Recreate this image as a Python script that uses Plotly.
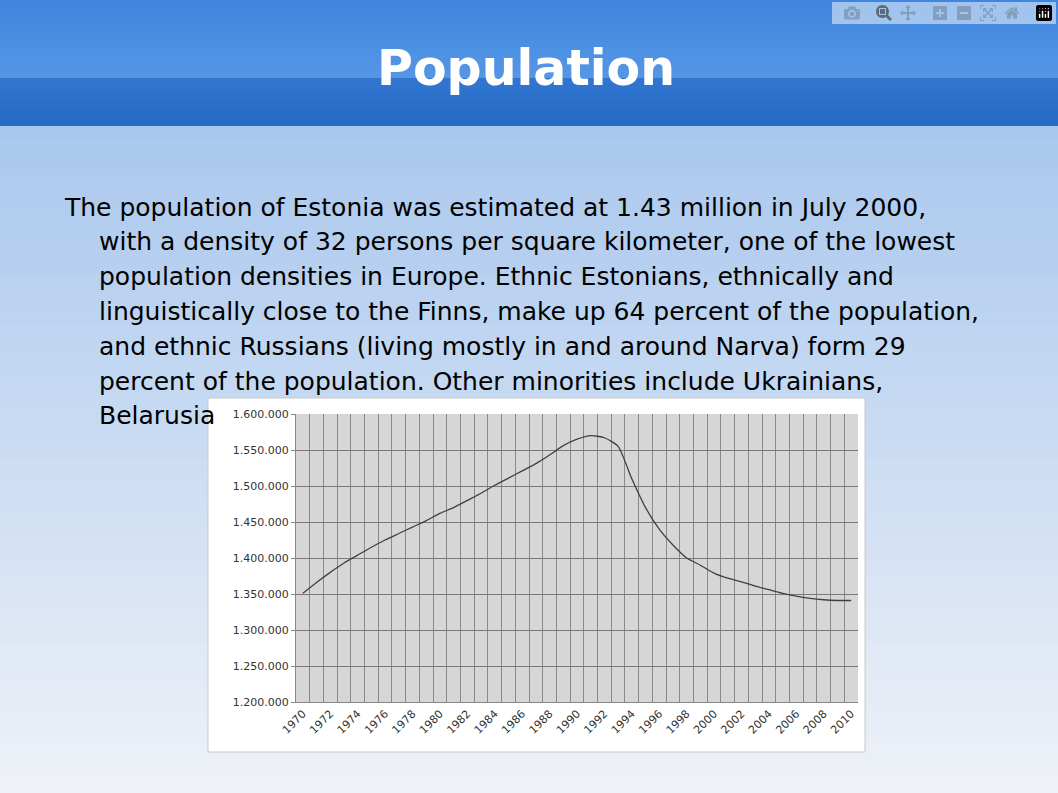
import plotly.graph_objects as go

years = list(range(1970, 2011))
population = [1351000,1366000,1380000,1393000,1404000,1415000,1425000,1434000,1443000,1452000,
              1462000,1470000,1480000,1490000,1501000,1511000,1521000,1531000,1543000,1556000,
              1565000,1570000,1567000,1555000,1510000,1470000,1440000,1418000,1400000,1390000,
              1379000,1372000,1367000,1361000,1356000,1351000,1347000,1344000,1342000,1341000,1341000]
tick_years = list(range(1970, 2011, 2))
title_text = "Population"
body_lines = [
    "The population of Estonia was estimated at 1.43 million in July 2000,",
    "with a density of 32 persons per square kilometer, one of the lowest",
    "population densities in Europe. Ethnic Estonians, ethnically and",
    "linguistically close to the Finns, make up 64 percent of the population,",
    "and ethnic Russians (living mostly in and around Narva) form 29",
    "percent of the population. Other minorities include Ukrainians,",
    "Belarusia",
]

W, H = 1058, 793
L, R, T, B = 296, 200, 414, 91
pw, ph = W - L - R, H - T - B
def px(x): return (x - L) / pw
def py(y): return (H - B - y) / ph

fig = go.Figure(go.Scatter(x=years, y=population, mode="lines",
                           line=dict(color="#404040", width=1.3, shape="spline", smoothing=0.6),
                           hoverinfo="skip"))

shapes = []
def rect(x0, y0, x1, y1, color, layer="below"):
    shapes.append(dict(type="rect", xref="paper", yref="paper", x0=px(x0), x1=px(x1),
                       y0=py(y1), y1=py(y0), fillcolor=color, line_width=0, layer=layer))

def lerp(c1, c2, t):
    return "rgb(%d,%d,%d)" % tuple(round(a + (b - a) * t) for a, b in zip(c1, c2))

n = 40
top_c, bot_c = (170, 200, 238), (238, 241, 247)
for i in range(n):
    y0 = 125 + (H - 125) * i / n
    y1 = 125 + (H - 125) * (i + 1) / n + 1
    rect(0, y0, W, y1, lerp(top_c, bot_c, i / (n - 1)))
for i in range(10):
    rect(0, 78 * i / 10, W, 78 * (i + 1) / 10 + 1, lerp((64, 134, 222), (84, 150, 228), i / 9))
for i in range(8):
    rect(0, 78 + 47 * i / 8, W, 78 + 47 * (i + 1) / 8 + 1, lerp((48, 118, 208), (38, 106, 198), i / 7))
rect(208, 398, 865, 752, "white")
shapes.append(dict(type="rect", xref="paper", yref="paper", x0=px(208), x1=px(865),
                   y0=py(752), y1=py(398), line=dict(color="#c8c8c8", width=1), layer="below"))
rect(L, T, W - R, H - B, "#d6d6d6")

annotations = [dict(text="<b>" + title_text + "</b>", xref="paper", yref="paper",
                    x=px(W / 2 - 3), y=py(68), showarrow=False, xanchor="center", yanchor="middle",
                    font=dict(family="DejaVu Sans", size=49, color="white"))]
for i, line in enumerate(body_lines):
    annotations.append(dict(text=line, xref="paper", yref="paper",
                            x=px(62 if i == 0 else 97), y=py(207 + 34.8 * i),
                            showarrow=False, xanchor="left", yanchor="middle",
                            font=dict(family="DejaVu Sans", size=25, color="black")))

fig.update_layout(
    width=W, height=H, margin=dict(l=L, r=R, t=T, b=B),
    paper_bgcolor="white", plot_bgcolor="#d6d6d6", showlegend=False,
    separators=",.", shapes=shapes, annotations=annotations,
    xaxis=dict(range=[1969.5, 2010.5], tickvals=tick_years, ticktext=[str(y) for y in tick_years],
               tickangle=-45, showgrid=False, zeroline=False, showline=True, linecolor="#888",
               tickfont=dict(family="DejaVu Sans", size=11, color="#333"),
               minor=dict(tick0=1969.5, dtick=1, showgrid=True, gridcolor="#8a8a8a", gridwidth=1),
               ticks="", fixedrange=True),
    yaxis=dict(range=[1200000, 1600000], dtick=50000, tickformat=",d",
               gridcolor="#7a7a7a", gridwidth=1, zeroline=False, showline=True, linecolor="#888",
               tickfont=dict(family="DejaVu Sans", size=11, color="#333"), ticks="outside",
               ticklen=4, tickcolor="#888"),
)
fig.write_html("out.html", post_script="document.body.style.margin='0';document.body.style.padding='0';")
